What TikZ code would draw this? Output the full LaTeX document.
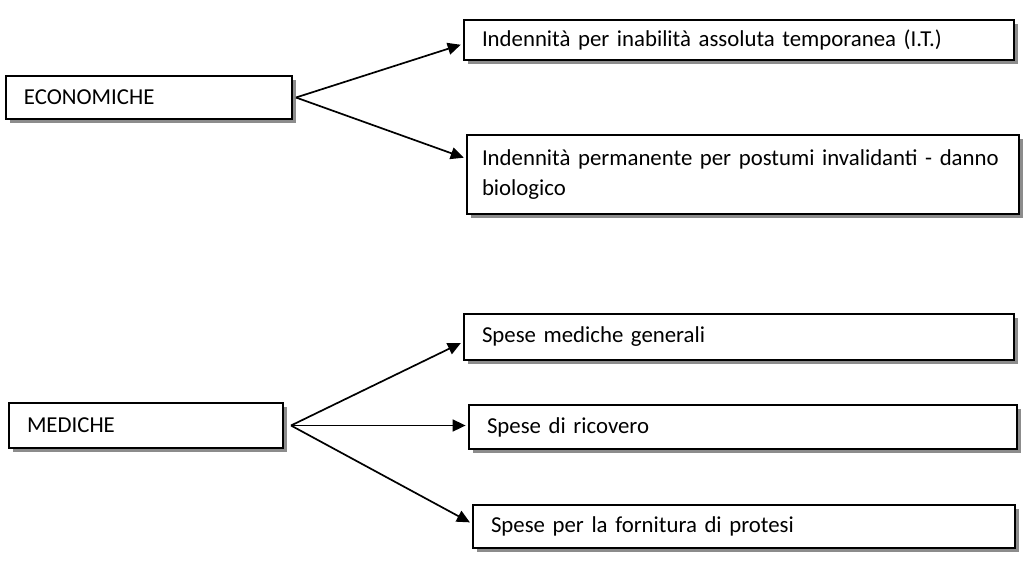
\documentclass[tikz,border=0pt]{standalone}
\usepackage{fontspec}
\setmainfont{Carlito}
\usepackage{tikz}
\usetikzlibrary{arrows.meta,positioning,calc,shadows}
\tikzset{
  vocebox/.style={draw=black,line width=1pt,fill=white,anchor=north west,
    align=left,inner xsep=9pt,inner ysep=0pt,font=\fontsize{11.4pt}{15pt}\selectfont,
    drop shadow={shadow xshift=2pt,shadow yshift=-2pt,fill=black!45,opacity=1}},
  freccia/.style={-{Triangle[length=6.5pt,width=6pt]},line width=0.85pt,shorten >=1.2pt}
}
\begin{document}
\begin{tikzpicture}[x=0.5pt,y=-0.5pt]
  \useasboundingbox (0,0) rectangle (1024,564);
  % prestazioni economiche
  \node[vocebox,text width=125pt,minimum height=21.5pt] (econ) at (5,75) {ECONOMICHE};
  \node[vocebox,text width=257pt,minimum height=20pt] (inab) at (463,19)
    {Indennità per inabilità assoluta temporanea (I.T.)};
  \node[vocebox,inner xsep=7.5pt,text width=261pt,minimum height=39.5pt] (perm) at (466,134)
    {Indennità permanente per postumi invalidanti - danno\\biologico};
  \coordinate (econout) at ([xshift=1.5pt]econ.east);
  \draw[freccia] (econout) -- ([yshift=-2pt]inab.west);
  \draw[freccia] (econout) -- ([yshift=8pt]perm.west);
  % prestazioni mediche
  \node[vocebox,text width=119pt,minimum height=22.5pt] (med) at (8,402) {MEDICHE};
  \node[vocebox,text width=257pt,minimum height=23pt] (gen) at (463,313) {Spese mediche generali};
  \node[vocebox,text width=256pt,minimum height=22pt] (ric) at (468,404) {Spese di ricovero};
  \node[vocebox,text width=253pt,minimum height=21.5pt] (prot) at (472,504) {Spese per la fornitura di protesi};
  \coordinate (medout) at ([xshift=3.5pt]med.east);
  \draw[freccia] (medout) -- ([yshift=-2.5pt]gen.west);
  \draw[freccia] (medout) -- (ric.west |- medout);
  \draw[freccia] (medout) -- ([yshift=1.5pt]prot.west);
\end{tikzpicture}
\end{document}
